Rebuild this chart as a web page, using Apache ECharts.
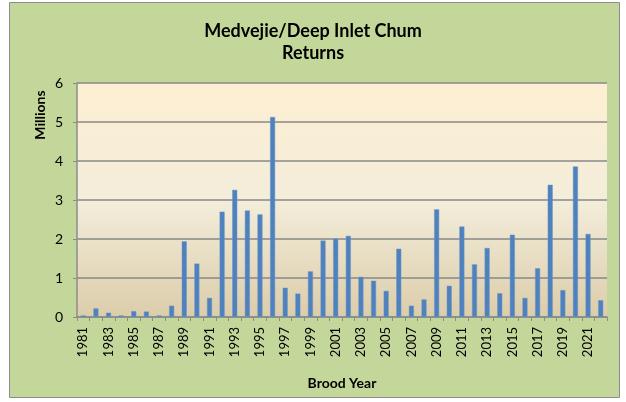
<!DOCTYPE html>
<html><head><meta charset="utf-8">
<script src="https://cdn.jsdelivr.net/npm/echarts@6/dist/echarts.min.js"></script>
<style>html,body{margin:0;padding:0;background:#fff}#c{width:626px;height:402px}</style>
</head><body><div id="c"></div>
<script>
const years = [];
for (let y = 1981; y <= 2022; y++) years.push(String(y));
const returnsMillions = [0.04,0.22,0.11,0.04,0.15,0.14,0.04,0.29,1.94,1.37,0.49,2.70,3.26,2.73,2.63,5.13,0.75,0.60,1.17,1.96,2.01,2.08,1.03,0.93,0.67,1.75,0.29,0.45,2.76,0.80,2.32,1.35,1.77,0.61,2.11,0.49,1.25,3.39,0.69,3.86,2.13,0.43];
const titleLines = ['Medvejie/Deep Inlet Chum','Returns'];
const yName = 'Millions';
const xName = 'Brood Year';

const font = 'Lato, "Open Sans", sans-serif';
const chart = echarts.init(document.getElementById('c'), null, {renderer:'canvas'});
chart.setOption({
  animation:false,
  graphic:[
    {type:'rect', z:-10, shape:{x:9.5,y:2.5,width:610,height:395}, style:{fill:'#c4d79b', stroke:'#8c8c8c', lineWidth:1}},
    {type:'text', x:40, y:115, rotation:Math.PI/2, style:{text:yName, font:'bold 14px '+font, fill:'#000', align:'center', verticalAlign:'middle'}}
  ],
  title:{text:titleLines.join('\n'), left:'center', top:15,
    textStyle:{fontFamily:font, fontSize:18, fontWeight:'bold', color:'#000', lineHeight:22}},
  grid:{left:77, right:19, top:83, bottom:85, show:true, borderWidth:0,
    backgroundColor:{type:'linear',x:0,y:0,x2:0,y2:1,colorStops:[
      {offset:0,color:'#fdefd2'},{offset:0.5,color:'#f3eddb'},{offset:1,color:'#dccdaa'}]}},
  xAxis:{type:'category', data:years, name:xName, nameLocation:'middle', nameGap:59,
    nameTextStyle:{fontFamily:font, fontSize:14, fontWeight:'bold', color:'#000'},
    axisLine:{lineStyle:{color:'#8c8c8c', width:1.5}},
    axisTick:{show:true, interval:0, length:4, lineStyle:{color:'#8c8c8c'}},
    axisLabel:{interval:1, rotate:90, fontFamily:font, fontSize:13, color:'#000', margin:10}},
  yAxis:{type:'value', min:0, max:6, interval:1,
    axisLine:{show:true, lineStyle:{color:'#8c8c8c', width:1.5}},
    axisTick:{show:true, length:4, lineStyle:{color:'#8c8c8c'}},
    axisLabel:{fontFamily:font, fontSize:14, color:'#000', margin:14},
    splitLine:{lineStyle:{color:'#888888', width:1.5}}},
  series:[{type:'bar', data:returnsMillions, barWidth:5,
    itemStyle:{color:'#4f81bd', borderColor:'#6b97cc', borderWidth:0.5}}]
});
</script></body></html>
